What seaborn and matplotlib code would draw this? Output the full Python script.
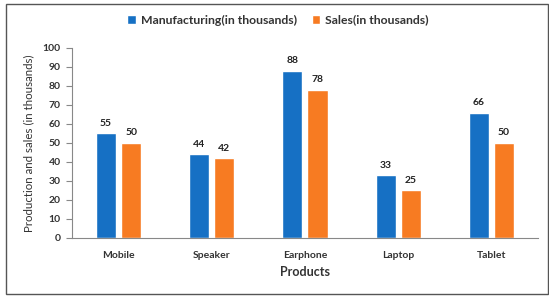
import pandas as pd
import matplotlib.pyplot as plt
import seaborn as sns
from matplotlib.patches import Rectangle

# Data
products = ["Mobile", "Speaker", "Earphone", "Laptop", "Tablet"]
manufacturing = [55, 44, 88, 33, 66]
sales = [50, 42, 78, 25, 50]
series_names = ["Manufacturing(in thousands)", "Sales(in thousands)"]

df = pd.DataFrame({
    "Product": products * 2,
    "Series": [series_names[0]] * len(products) + [series_names[1]] * len(products),
    "Value": manufacturing + sales,
})

sns.set_style("white")
plt.rcParams['font.family'] = ['Lato', 'DejaVu Sans']

fig = plt.figure(figsize=(5.49, 2.96), dpi=100)
ax = fig.add_axes([0.131, 0.196, 0.849, 0.642])

sns.barplot(
    data=df, x="Product", y="Value", hue="Series",
    palette=["#1670c4", "#f77b22"], width=0.54, gap=0.2,
    saturation=1, ax=ax,
)

# value labels on bars
for cont in ax.containers:
    ax.bar_label(cont, padding=4, fontsize=7.5, fontweight="bold", color="#222222")

ax.set_xlim(-0.5, 4.5)
ax.set_ylim(0, 100)
ax.set_yticks(range(0, 101, 10))
ax.tick_params(axis="y", left=True, length=4, width=0.8, color="#888888",
               labelsize=7.5, pad=4)
ax.tick_params(axis="x", bottom=False, labelsize=7.5, pad=6)
for lbl in ax.get_xticklabels() + ax.get_yticklabels():
    lbl.set_fontweight("bold")
    lbl.set_color("#333333")

sns.despine(ax=ax, top=True, right=True)
ax.spines["left"].set_color("#888888")
ax.spines["bottom"].set_color("#888888")
ax.spines["left"].set_linewidth(0.8)
ax.spines["bottom"].set_linewidth(0.8)

ax.set_xlabel("Products", fontsize=9, fontweight="bold", color="#333333", labelpad=4)
ax.set_ylabel("Production and sales (in thousands)", fontsize=8.3, color="#333333", labelpad=6)

ax.legend(loc="lower center", bbox_to_anchor=(0.442, 1.06), ncol=2, frameon=False,
          prop={"size": 8.8, "weight": "bold"}, handlelength=0.7, handleheight=0.7,
          handletextpad=0.4, columnspacing=1.2, labelcolor="#333333")

# outer border
fig.patches.append(Rectangle((6 / 549, 2 / 296), 542 / 549, 290 / 296,
                             transform=fig.transFigure, fill=False,
                             edgecolor="#555555", linewidth=1.0))

fig.savefig("out.png", dpi=100)
